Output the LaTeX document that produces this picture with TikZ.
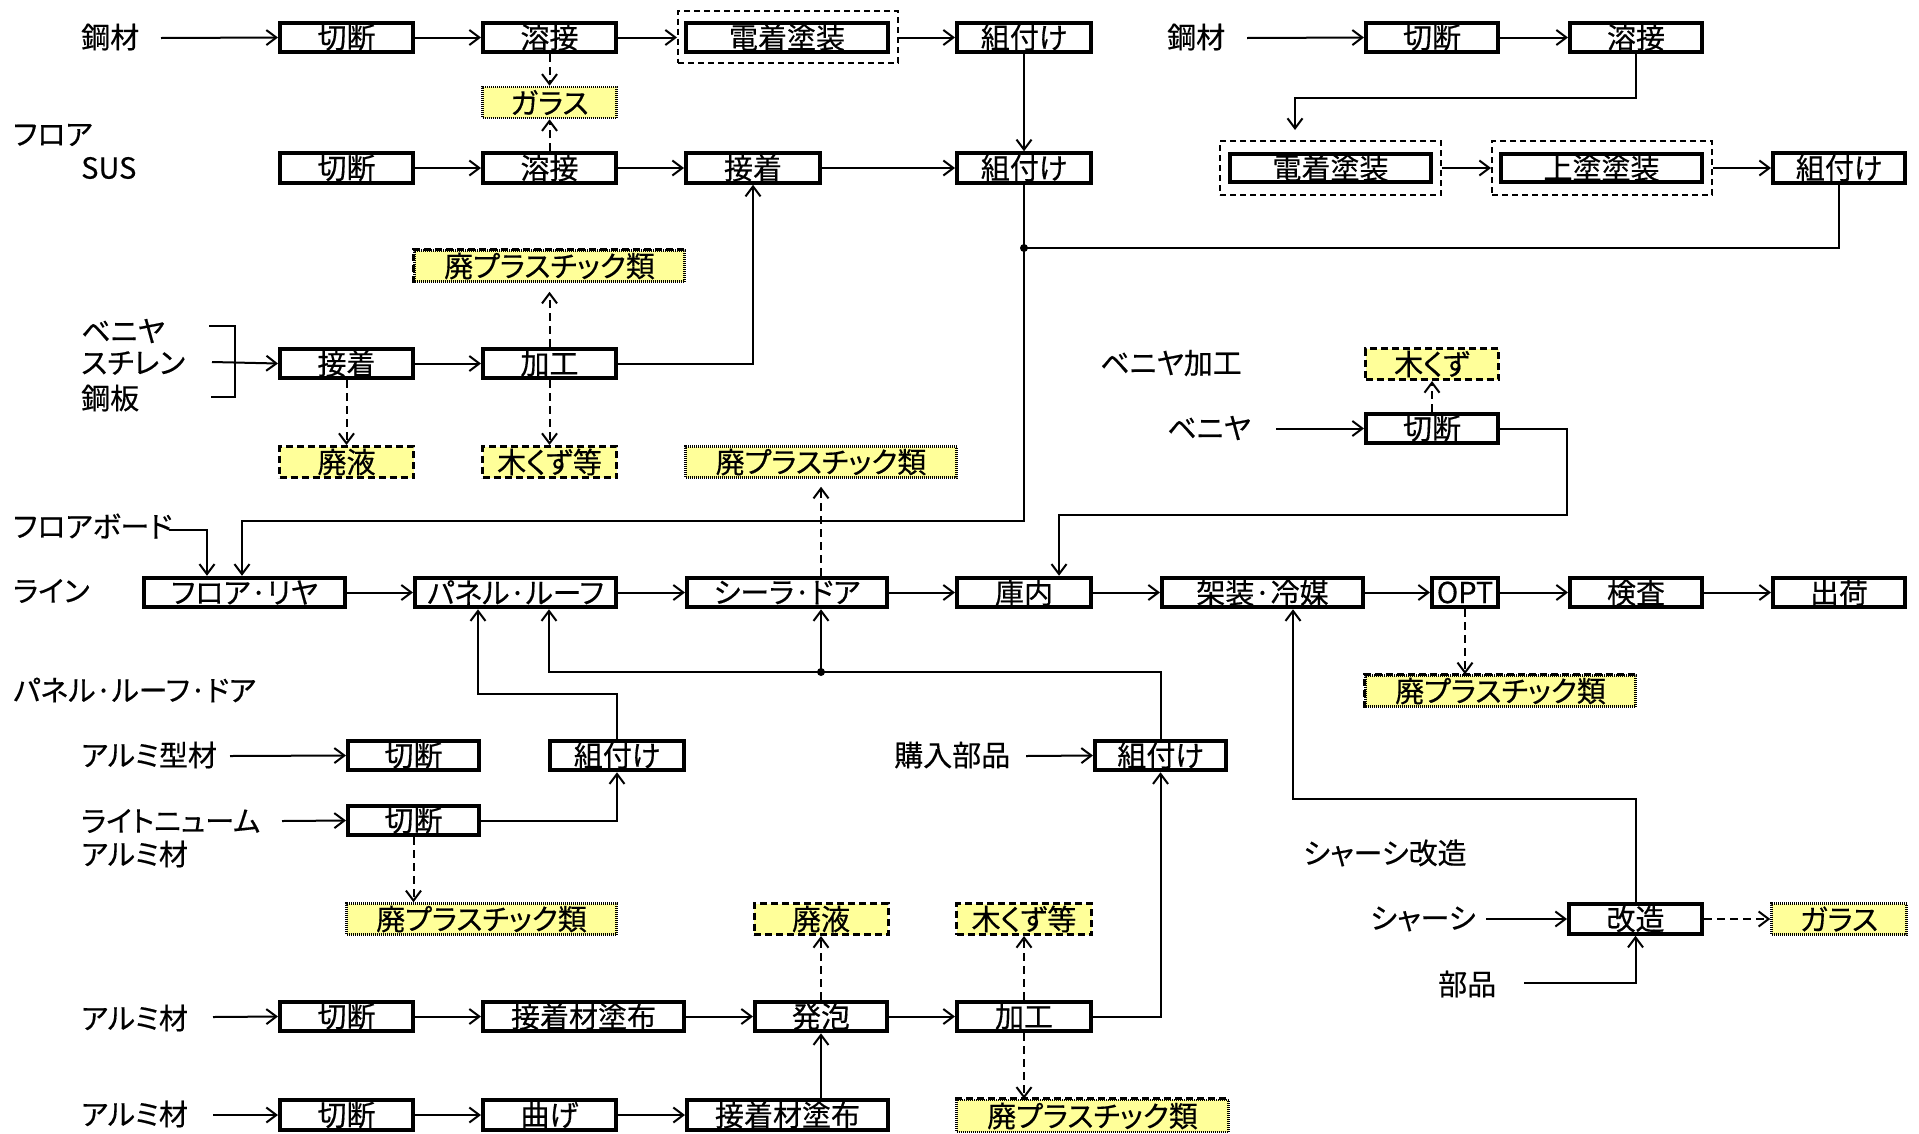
\documentclass[tikz,border=0pt]{standalone}
\usepackage{fontspec}
\setmainfont[RawFeature=+palt,FakeBold=0.4]{Noto Sans CJK JP}
\usetikzlibrary{arrows.meta}
\definecolor{wy}{RGB}{255,255,153}
\newcommand\fs{\fontsize{29}{34}\selectfont}
\tikzset{
 proc/.style={draw, line width=4pt, minimum height=29.5pt, inner sep=0pt, font=\fs},
 grp/.style={draw, line width=2pt, dash pattern=on 6pt off 4pt, inner sep=0pt},
 wasteD/.style={draw, fill=wy, line width=3pt, dash pattern=on 7pt off 4pt, minimum height=31pt, inner sep=0pt, font=\fs},
 wasteF/.style={draw, fill=wy, line width=2.5pt, dash pattern=on 1pt off 1pt, minimum height=31pt, inner sep=0pt, font=\fs},
 edgeD/.style={line width=3pt, dash pattern=on 7pt off 4pt},
 lbl/.style={anchor=west, inner sep=0pt, font=\fs},
 arr/.style={-{Straight Barb[length=10pt,width=15pt]}, line width=2pt},
 darr/.style={arr, dash pattern=on 8pt off 5pt},
 ln/.style={line width=2pt},
}
\begin{document}
\begin{tikzpicture}[x=1pt,y=-1pt]
\useasboundingbox (0,0) rectangle (1919,1133);
% labels
\node[lbl] (lSteel) at (81,37) {鋼材};
\node[lbl] (lFloor) at (13,135) {フロア};
\node[lbl] (lSUS) at (81,168) {SUS};
\node[lbl] (lVen) at (81,331) {ベニヤ};
\node[lbl] (lSty) at (81,363) {スチレン};
\node[lbl] (lPlate) at (81,398) {鋼板};
\node[lbl] (lFB) at (13,526) {フロアボード};
\node[lbl] (lLine) at (13,591) {ライン};
\node[lbl] (lPRD) at (13,690) {パネル·ルーフ·ドア};
\node[lbl] (lAlK) at (81,755) {アルミ型材};
\node[lbl] (lLight) at (81,821) {ライトニューム};
\node[lbl] (lLight2) at (81,854) {アルミ材};
\node[lbl] (lAl1) at (81,1018) {アルミ材};
\node[lbl] (lAl2) at (81,1114) {アルミ材};
\node[lbl] (lBuy) at (894,755) {購入部品};
\node[lbl] (lSteelR) at (1167,37) {鋼材};
\node[lbl] (lVenK) at (1100,363) {ベニヤ加工};
\node[lbl] (lVenR) at (1167,428) {ベニヤ};
\node[lbl] (lChK) at (1303,853) {シャーシ改造};
\node[lbl] (lCh) at (1370,919) {シャーシ};
\node[lbl] (lPart) at (1438,984) {部品};
% boxes top-left
\node[proc, minimum width=133] (a1) at (346.5,37.5) {切断};
\node[proc, minimum width=133] (a2) at (549.5,37.5) {溶接};
\node[proc, minimum width=202] (a3) at (787,37.5) {電着塗装};
\node[grp, minimum width=220, minimum height=52] (a3o) at (788,36.5) {};
\node[proc, minimum width=134] (a4) at (1024,37.5) {組付け};
\node[wasteF, minimum width=134] (wG1) at (549.5,102.5) {ガラス};
\node[proc, minimum width=133] (b1) at (346.5,168) {切断};
\node[proc, minimum width=133] (b2) at (549.5,168) {溶接};
\node[proc, minimum width=134] (b3) at (753,168) {接着};
\node[proc, minimum width=134] (b4) at (1024,168) {組付け};
\node[wasteF, minimum width=270] (wP1) at (549.5,266) {廃プラスチック類};
\draw[edgeD] (wP1.south west) -- (wP1.north west) -- (wP1.north east);
\node[proc, minimum width=133] (c1) at (346.5,363.5) {接着};
\node[proc, minimum width=133] (c2) at (549.5,363.5) {加工};
\node[wasteD, minimum width=134] (wL1) at (346.5,462) {廃液};
\node[wasteD, minimum width=134] (wW1) at (549.5,462) {木くず等};
\node[wasteF, minimum width=271] (wP2) at (821,462) {廃プラスチック類};
% boxes top-right
\node[proc, minimum width=132] (r1) at (1432,37.5) {切断};
\node[proc, minimum width=132] (r2) at (1636,37.5) {溶接};
\node[proc, minimum width=201, minimum height=28.5] (r3) at (1330.5,168) {電着塗装};
\node[grp, minimum width=221, minimum height=54] (r3o) at (1330.5,168) {};
\node[proc, minimum width=201, minimum height=28.5] (r4) at (1601.5,168) {上塗塗装};
\node[grp, minimum width=220, minimum height=54] (r4o) at (1602,168) {};
\node[proc, minimum width=132] (r5) at (1839,168) {組付け};
\node[wasteD, minimum width=133] (wW2) at (1432,364) {木くず};
\node[proc, minimum width=132] (v1) at (1432,428.5) {切断};
% line row
\node[proc, minimum width=201] (m1) at (244.5,592.5) {フロア·リヤ};
\node[proc, minimum width=201] (m2) at (515.5,592.5) {パネル·ルーフ};
\node[proc, minimum width=200] (m3) at (787,592.5) {シーラ·ドア};
\node[proc, minimum width=134] (m4) at (1024,592.5) {庫内};
\node[proc, minimum width=201] (m5) at (1262.5,592.5) {架装·冷媒};
\node[proc, minimum width=66] (m6) at (1465,592.5) {OPT};
\node[proc, minimum width=132] (m7) at (1636,592.5) {検査};
\node[proc, minimum width=132] (m8) at (1839,592.5) {出荷};
\node[wasteF, minimum width=270] (wP3) at (1500.5,691) {廃プラスチック類};
\draw[edgeD] (wP3.south west) -- (wP3.north west) -- (wP3.north east);
% panel area
\node[proc, minimum width=131] (p1) at (413.5,755.5) {切断};
\node[proc, minimum width=134] (p2) at (617,755.5) {組付け};
\node[proc, minimum width=131] (p3) at (1160.5,755.5) {組付け};
\node[proc, minimum width=131] (p4) at (413.5,820.5) {切断};
\node[wasteF, minimum width=270] (wP4) at (481.5,919) {廃プラスチック類};
\node[wasteD, minimum width=134] (wL2) at (821,919) {廃液};
\node[wasteD, minimum width=135] (wW3) at (1024,919) {木くず等};
\node[proc, minimum width=133] (k1) at (1635.5,919) {改造};
\node[wasteF, minimum width=135] (wG2) at (1839,919) {ガラス};
\node[proc, minimum width=133] (q1) at (346.5,1016.5) {切断};
\node[proc, minimum width=201] (q2) at (583.5,1016.5) {接着材塗布};
\node[proc, minimum width=132] (q3) at (821,1016.5) {発泡};
\node[proc, minimum width=134] (q4) at (1024,1016.5) {加工};
\node[proc, minimum width=133] (s1) at (346.5,1115) {切断};
\node[proc, minimum width=133] (s2) at (549.5,1115) {曲げ};
\node[proc, minimum width=201] (s3) at (787.5,1115) {接着材塗布};
\node[wasteF, minimum width=272, minimum height=32] (wP5) at (1092.5,1116) {廃プラスチック類};
\draw[edgeD] (wP5.north west) -- (wP5.north east);
% coordinates
\coordinate (st1) at (161,38);
\coordinate (st2) at (1247,38);
\coordinate (st3) at (212,362);
\coordinate (st4) at (169,530);
\coordinate (st5) at (1276,428.5);
\coordinate (st6) at (230,756);
\coordinate (st7) at (282,821);
\coordinate (st8) at (1026,756);
\coordinate (st9) at (213,1017);
\coordinate (st10) at (213,1115);
\coordinate (st11) at (1486,919);
\coordinate (st12) at (1524,983);
\coordinate (j1) at (1024,248);
\coordinate (j2) at (821,672);
\coordinate (x242) at (242,0);
\coordinate (x207) at (207,0);
\coordinate (x1059) at (1059,0);
\coordinate (x549) at (549,0);
\coordinate (t1) at (1295,98);
\coordinate (t2) at (1295,130);
\coordinate (v2) at (1567,515);
\coordinate (pA) at (478,694);
\coordinate (kA) at (1293,799);
\coordinate (bk1) at (209,326);
\coordinate (bk2) at (235,397);
\coordinate (bk3) at (211,397);
% connectors top-left
\draw[arr] (st1) -- (a1.west);
\draw[arr] (a1.east) -- (a2.west);
\draw[arr] (a2.east) -- (a2.east -| a3o.west);
\draw[arr] (a4.west -| a3o.east) -- (a4.west);
\draw[darr] (a2.south) -- (wG1.north);
\draw[darr] (b2.north) -- (wG1.south);
\draw[arr] (b1.east) -- (b2.west);
\draw[arr] (b2.east) -- (b3.west);
\draw[arr] (b3.east) -- (b4.west);
\draw[arr] (a4.south) -- (b4.north);
\draw[arr] (b4.south) |- (x242 |- 0,521) -- (m1.north -| x242);
\draw[ln] (r5.south) |- (j1);
\fill (j1) circle (4pt);
\draw[ln] (bk1) -| (bk2) -- (bk3);
\draw[arr] (st3) -- (c1.west);
\draw[arr] (c1.east) -- (c2.west);
\draw[darr] (c1.south) -- (wL1.north);
\draw[darr, shorten >=9pt] (c2.north) -- (wP1.south);
\draw[darr] (c2.south) -- (wW1.north);
\draw[arr] (c2.east) -| (b3.south);
% top-right
\draw[arr] (st2) -- (r1.west);
\draw[arr] (r1.east) -- (r2.west);
\draw[arr] (r2.south) |- (t1) -- (t2);
\draw[arr] (r3o.east) -- (r4o.west);
\draw[arr] (r4o.east) -- (r5.west);
% line row
\draw[arr] (st4) -| (m1.north -| x207);
\draw[arr] (m1.east) -- (m2.west);
\draw[arr] (m2.east) -- (m3.west);
\draw[arr] (m3.east) -- (m4.west);
\draw[arr] (m4.east) -- (m5.west);
\draw[arr] (m5.east) -- (m6.west);
\draw[arr] (m6.east) -- (m7.west);
\draw[arr] (m7.east) -- (m8.west);
\draw[darr, shorten >=8pt] (m3.north -| j2) -- (wP2.south);
\draw[arr] (st5) -- (v1.west);
\draw[darr] (v1.north) -- (wW2.south);
\draw[arr] (v1.east) -| (v2) -| (m4.north -| x1059);
\draw[darr] (m6.south) -- (wP3.north -| m6.south);
% panel area
\draw[arr] (st6) -- (p1.west);
\draw[arr] (st7) -- (p4.west);
\draw[arr] (p4.east) -| (p2.south);
\draw[darr] (p4.south) -- (p4.south |- wP4.north);
\draw[arr] (p2.north) |- (pA) -- (m2.south -| pA);
\draw[arr] (p3.north) |- (x549 |- j2) -- (m2.south -| x549);
\fill (j2) circle (4pt);
\draw[arr] (j2) -- (m3.south -| j2);
\draw[arr] (st8) -- (p3.west);
% bottom rows
\draw[arr] (st9) -- (q1.west);
\draw[arr] (q1.east) -- (q2.west);
\draw[arr] (q2.east) -- (q3.west);
\draw[arr] (q3.east) -- (q4.west);
\draw[darr] (q3.north) -- (wL2.south);
\draw[darr] (q4.north) -- (wW3.south);
\draw[darr] (q4.south) -- (wP5.north -| q4.south);
\draw[arr] (q4.east) -| (p3.south);
\draw[arr] (st10) -- (s1.west);
\draw[arr] (s1.east) -- (s2.west);
\draw[arr] (s2.east) -- (s3.west);
\draw[arr] (s3.north -| q3.south) -- (q3.south);
% chassis
\draw[arr] (st11) -- (k1.west);
\draw[darr] (k1.east) -- (wG2.west);
\draw[arr] (st12) -| (k1.south);
\draw[arr] (k1.north) |- (kA) -- (m5.south -| kA);
\end{tikzpicture}
\end{document}
